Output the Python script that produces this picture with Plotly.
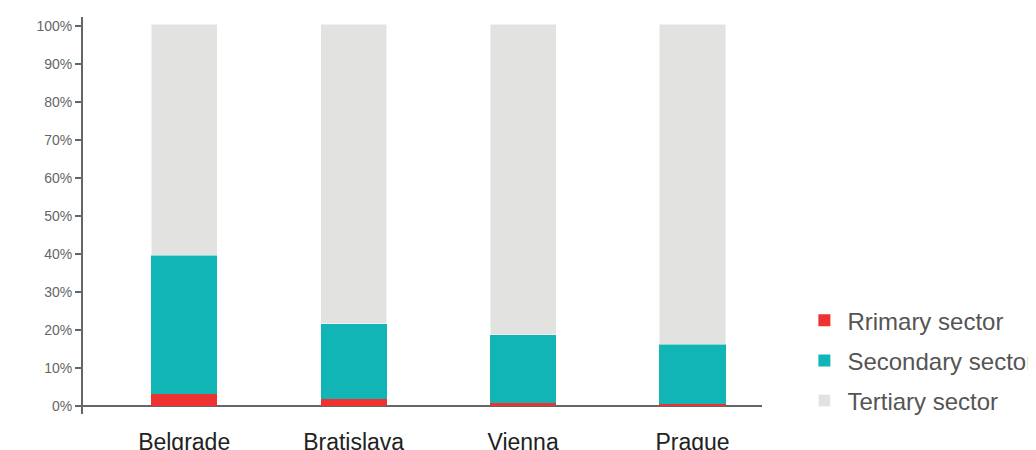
import plotly.graph_objects as go

cities = ["Belgrade", "Bratislava", "Vienna", "Prague"]
primary = [3.2, 1.8, 0.8, 0.6]
secondary = [36.5, 19.8, 17.9, 15.7]
tertiary = [60.8, 78.9, 81.8, 84.2]
series_names = ["Rrimary sector", "Secondary sector", "Tertiary sector"]
colors = ["#EE3131", "#12B5B5", "#E2E3E1"]
ytick_vals = [0, 10, 20, 30, 40, 50, 60, 70, 80, 90, 100]
ytick_text = [f"{v}%" for v in ytick_vals]

fig = go.Figure()
for i, (name, vals, col) in enumerate(zip(series_names, [primary, secondary, tertiary], colors)):
    fig.add_trace(go.Bar(
        x=cities, y=vals, name=name, legendgroup=f"g{i}",
        marker=dict(color=col, line=dict(color="white", width=0.5 if i == 2 else 0)),
        width=0.39,
    ))

fig.update_layout(
    barmode="stack",
    width=1036, height=450,
    margin=dict(l=75, r=282, t=9, b=44, autoexpand=False),
    plot_bgcolor="white", paper_bgcolor="white",
    font=dict(family="Liberation Sans, Arial, sans-serif"),
    showlegend=True,
    legend=dict(
        x=1.058, y=0.292, xanchor="left", yanchor="top",
        traceorder="grouped", tracegroupgap=6, itemwidth=36,
        font=dict(size=24, color="#555555"),
        bgcolor="rgba(0,0,0,0)",
    ),
    xaxis=dict(
        type="category", range=[-0.597, 3.41], automargin=False,
        showline=False, showgrid=False, ticks="",
        tickfont=dict(size=23, color="#222222"),
        ticklabelstandoff=12,
    ),
    yaxis=dict(
        range=[-2.1, 102.4], tickvals=ytick_vals, ticktext=ytick_text,
        automargin=False,
        showgrid=False, showline=True, linecolor="#666666", linewidth=2,
        ticks="outside", ticklen=6, tickcolor="#666666", tickwidth=1.5,
        tickfont=dict(size=14, color="#666666"),
        zeroline=True, zerolinecolor="#666666", zerolinewidth=2,
    ),
)

fig.write_html("out.html")
